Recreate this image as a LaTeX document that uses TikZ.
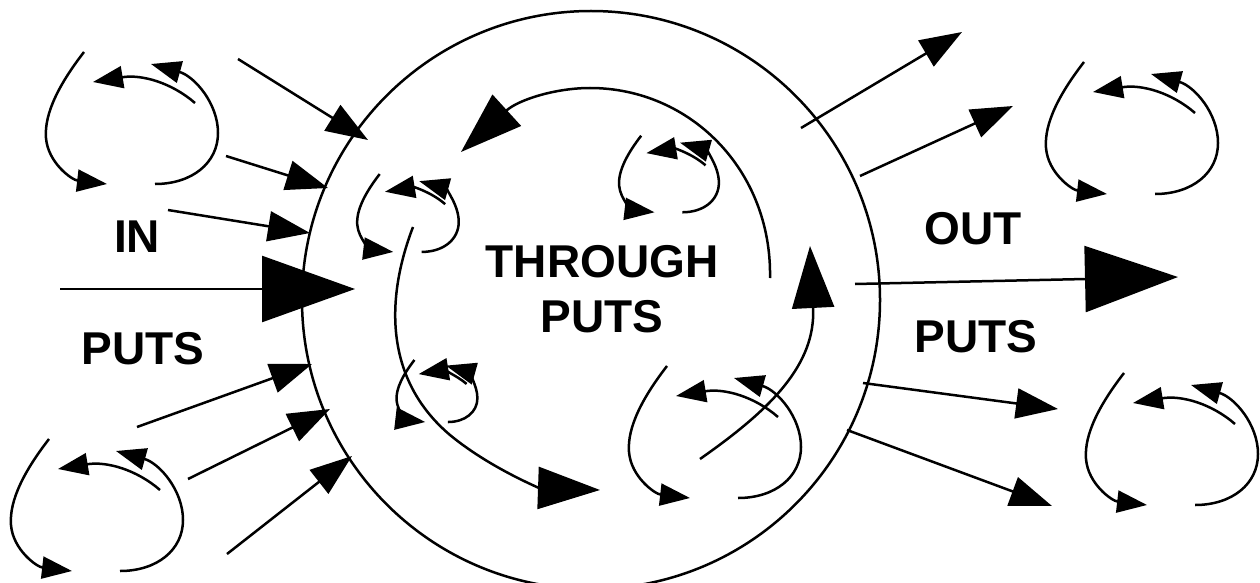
\documentclass[tikz,border=0pt]{standalone}
\usepackage{fontspec}
\setmainfont{Liberation Sans}
\usetikzlibrary{arrows.meta}

\tikzset{
  lparr/.style={-{Triangle[length=30pt,width=22pt]}},
  pics/cyc/.style={code={
    \begin{scope}[scale=#1]
      \draw[lparr] (-48,-66) .. controls (-72,-35) and (-88,-5) .. (-86,20) .. controls (-84,45) and (-60,62) .. (-25,66);
      \draw[lparr] (23,66) .. controls (60,66) and (86,45) .. (86,15) .. controls (86,-15) and (62,-42) .. (19,-54);
      \draw[lparr] (63,-15) .. controls (40,-35) and (10,-44) .. (-39,-36);
    \end{scope}
  }}
}

\begin{document}
\begin{tikzpicture}[
  x=1pt, y=-1pt, line width=2.5pt,
  lbl/.style={font=\fontsize{46}{55}\selectfont\bfseries, align=center},
  sarr/.style={-{Triangle[length=42pt,width=30pt]}},
  barr/.style={-{Triangle[length=93pt,width=66pt]}},
  marr/.style={-{Triangle[length=62pt,width=42pt]}}
]
\useasboundingbox (0,0) rectangle (1260,583);

\node[draw, circle, minimum size=578pt, inner sep=0pt] (sys) at (591,300) {};

\node[lbl] (inlbl) at (137,237) {IN};
\node[lbl] (inputs) at (143,349) {PUTS};
\node[lbl] (thru) at (602,289) {THROUGH\\PUTS};
\node[lbl] (outlbl) at (973,229) {OUT};
\node[lbl] (outputs) at (976,337) {PUTS};

\pic at (132,118) {cyc=1};
\pic at (97,505) {cyc=1};
\pic at (1132,128) {cyc=1};
\pic at (1172,439) {cyc=1};
\pic at (408,213) {cyc=0.59};
\pic at (669,174) {cyc=0.58};
\pic at (437,391) {cyc=0.47};
\pic at (715,432) {cyc=1};

\coordinate (i1a) at (238,59);
\coordinate (i1b) at (368,140);
\coordinate (i2a) at (226,156);
\coordinate (i2b) at (328,188);
\coordinate (i3a) at (168,210);
\coordinate (i3b) at (310,233);
\coordinate (i4a) at (60,289);
\coordinate (i4b) at (355,289);
\coordinate (i5a) at (137,427);
\coordinate (i5b) at (312,364);
\coordinate (i6a) at (188,479);
\coordinate (i6b) at (330,409);
\coordinate (i7a) at (227,554);
\coordinate (i7b) at (352,456);

\coordinate (o1a) at (801,128);
\coordinate (o1b) at (962,32);
\coordinate (o2a) at (860,176);
\coordinate (o2b) at (1013,106);
\coordinate (o3a) at (855,284);
\coordinate (o3b) at (1178,277);
\coordinate (o4a) at (863,383);
\coordinate (o4b) at (1058,409);
\coordinate (o5a) at (847,430);
\coordinate (o5b) at (1052,506);

\coordinate (ta) at (770,278);
\coordinate (tb) at (461,152);
\coordinate (la) at (413,227);
\coordinate (lb) at (600,490);
\coordinate (ra) at (700,459);
\coordinate (rb) at (810,246);

\draw[sarr] (i1a) -- (i1b);
\draw[sarr] (i2a) -- (i2b);
\draw[sarr] (i3a) -- (i3b);
\draw[barr] (i4a) -- (i4b);
\draw[sarr] (i5a) -- (i5b);
\draw[sarr] (i6a) -- (i6b);
\draw[sarr] (i7a) -- (i7b);

\draw[sarr] (o1a) -- (o1b);
\draw[sarr] (o2a) -- (o2b);
\draw[barr] (o3a) -- (o3b);
\draw[sarr] (o4a) -- (o4b);
\draw[sarr] (o5a) -- (o5b);

\draw[marr] (ta) .. controls (772,170) and (690,88) .. (590,88) .. controls (555,88) and (518,100) .. (tb);
\draw[marr] (la) .. controls (385,300) and (385,380) .. (450,435) .. controls (490,468) and (540,488) .. (lb);
\draw[marr] (ra) .. controls (770,410) and (816,365) .. (rb);
\end{tikzpicture}
\end{document}
